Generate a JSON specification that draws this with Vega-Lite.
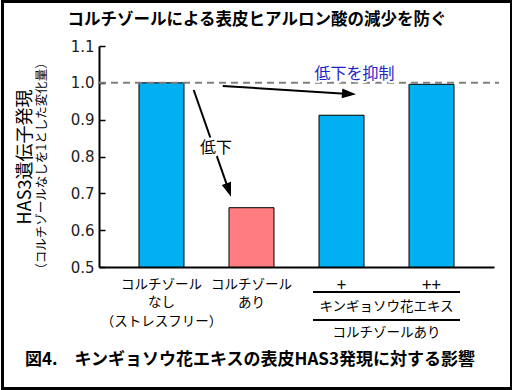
{
  "$schema": "https://vega.github.io/schema/vega-lite/v6.json",
  "width": 395,
  "height": 221,
  "padding": 0,
  "autosize": {"type": "pad"},
  "background": "white",
  "config": {
    "view": {"stroke": null},
    "axis": {"grid": false},
    "text": {"font": "Noto Sans CJK JP"}
  },
  "datasets": {
    "bars": [
      {"condition": "コルチゾールなし（ストレスフリー）", "treatment": "コルチゾールなし", "expression": 1.0},
      {"condition": "コルチゾールあり", "treatment": "コルチゾールあり", "expression": 0.661},
      {"condition": "+", "treatment": "キンギョソウ花エキス", "expression": 0.912},
      {"condition": "++", "treatment": "キンギョソウ花エキス", "expression": 0.996}
    ],
    "frame": [{"x0": -1.7667, "x1": 3.8889, "y0": 1.2208, "y1": 0.1701}],
    "baseline": [{"x0": -0.6944, "x1": 3.75, "y0": 1.0}],
    "arrows": [
      {"x0": 0.3578, "y0": 0.9805, "x1": 0.7467, "y1": 0.7088},
      {"x0": 0.68, "y0": 0.9914, "x1": 2.0833, "y1": 0.97}
    ],
    "head_drop": [{"x0": 0.7467, "y0": 0.7088}],
    "head_keep": [{"x0": 2.0833, "y0": 0.97}],
    "note_drop": [{"x0": 0.6056, "y0": 0.8231, "label": "低下"}],
    "note_keep": [{"x0": 2.1444, "y0": 1.024, "label": "低下を抑制"}],
    "group_lines": [
      {"x0": 1.6833, "x1": 3.3167, "y0": 0.4321},
      {"x0": 1.6833, "x1": 3.3167, "y0": 0.3561}
    ],
    "group_texts": [
      {"x0": 2.5, "y0": 0.3914, "label": "キンギョソウ花エキス"},
      {"x0": 2.5, "y0": 0.3208, "label": "コルチゾールあり"}
    ],
    "y_subtitle": [{"x0": -1.3278, "y0": 0.7742, "label": "（コルチゾールなしを1とした変化量）"}],
    "title": [{"x0": 1.0611, "y0": 1.1706, "label": "コルチゾールによる表皮ヒアルロン酸の減少を防ぐ"}],
    "caption": [{"x0": 0.9833, "y0": 0.2475, "label": "図4.　キンギョソウ花エキスの表皮HAS3発現に対する影響"}]
  },
  "resolve": {
    "scale": {"x": "independent", "y": "independent"},
    "axis": {"x": "independent", "y": "independent"}
  },
  "layer": [
    {
      "data": {"name": "bars"},
      "mark": {"type": "bar", "stroke": "black", "strokeWidth": 1},
      "encoding": {
        "x": {
          "field": "condition",
          "type": "nominal",
          "sort": null,
          "scale": {"paddingInner": 0.5, "paddingOuter": 0.4444},
          "axis": {
            "title": null,
            "labelExpr": "datum.value == 'コルチゾールなし（ストレスフリー）' ? ['コルチゾール', 'なし', '（ストレスフリー）'] : datum.value == 'コルチゾールあり' ? ['コルチゾール', 'あり'] : datum.value",
            "ticks": false,
            "domainColor": "black",
            "domainWidth": 2,
            "labelAngle": 0,
            "labelFont": "Noto Sans CJK JP",
            "labelFontSize": {"condition": {"test": "datum.value == '+' || datum.value == '++'", "value": 17}, "value": 13.5},
            "labelColor": "black",
            "labelPadding": 10,
            "labelLineHeight": 18.5
          }
        },
        "y": {
          "field": "expression",
          "type": "quantitative",
          "scale": {"domain": [0.5, 1.1], "nice": false, "zero": false},
          "axis": {
            "orient": "left",
            "values": [0.5, 0.6, 0.7, 0.8, 0.9, 1.0, 1.1],
            "format": ".1f",
            "tickSize": -6,
            "tickColor": "black",
            "tickWidth": 1.5,
            "domainColor": "black",
            "domainWidth": 2,
            "labelFont": "DejaVu Sans",
            "labelFontSize": 15,
            "labelColor": "#222222",
            "labelPadding": 11,
            "title": "HAS3遺伝子発現",
            "titleFont": "Noto Sans CJK JP",
            "titleFontSize": 18,
            "titleFontWeight": "normal",
            "titleColor": "black",
            "titlePadding": 36
          }
        },
        "y2": {"datum": 0.5},
        "color": {
          "field": "treatment",
          "type": "nominal",
          "scale": {"domain": ["コルチゾールなし", "コルチゾールあり", "キンギョソウ花エキス"], "range": ["#00B0F0", "#FF7C80", "#00B0F0"]},
          "legend": null
        }
      }
    },
    {
      "layer": [
        {
          "data": {"name": "frame"},
          "mark": {"type": "rect", "fillOpacity": 0, "stroke": "black", "strokeWidth": 3},
          "encoding": {
            "x": {"field": "x0", "type": "quantitative", "scale": {"domain": [-0.6944, 3.6944], "nice": false, "zero": false}, "axis": null},
            "x2": {"field": "x1"},
            "y": {"field": "y0", "type": "quantitative", "scale": {"domain": [0.5, 1.1], "nice": false, "zero": false}, "axis": null},
            "y2": {"field": "y1"}
          }
        },
        {
          "data": {"name": "baseline"},
          "mark": {"type": "rule", "color": "#808080", "strokeWidth": 2, "strokeDash": [7, 5]},
          "encoding": {
            "x": {"field": "x0", "type": "quantitative", "scale": {"domain": [-0.6944, 3.6944], "nice": false, "zero": false}, "axis": null},
            "x2": {"field": "x1"},
            "y": {"field": "y0", "type": "quantitative", "scale": {"domain": [0.5, 1.1], "nice": false, "zero": false}, "axis": null}
          }
        },
        {
          "data": {"name": "arrows"},
          "mark": {"type": "rule", "color": "black", "strokeWidth": 2},
          "encoding": {
            "x": {"field": "x0", "type": "quantitative", "scale": {"domain": [-0.6944, 3.6944], "nice": false, "zero": false}, "axis": null},
            "x2": {"field": "x1"},
            "y": {"field": "y0", "type": "quantitative", "scale": {"domain": [0.5, 1.1], "nice": false, "zero": false}, "axis": null},
            "y2": {"field": "y1"}
          }
        },
        {
          "data": {"name": "head_drop"},
          "mark": {"type": "point", "shape": "M0,-1L-0.7,1L0.7,1Z", "size": 196, "filled": true, "color": "black", "opacity": 1, "strokeWidth": 0, "angle": 160.7},
          "encoding": {
            "x": {"field": "x0", "type": "quantitative", "scale": {"domain": [-0.6944, 3.6944], "nice": false, "zero": false}, "axis": null},
            "y": {"field": "y0", "type": "quantitative", "scale": {"domain": [0.5, 1.1], "nice": false, "zero": false}, "axis": null}
          }
        },
        {
          "data": {"name": "head_keep"},
          "mark": {"type": "point", "shape": "M0,-1L-0.7,1L0.7,1Z", "size": 196, "filled": true, "color": "black", "opacity": 1, "strokeWidth": 0, "angle": 93.6},
          "encoding": {
            "x": {"field": "x0", "type": "quantitative", "scale": {"domain": [-0.6944, 3.6944], "nice": false, "zero": false}, "axis": null},
            "y": {"field": "y0", "type": "quantitative", "scale": {"domain": [0.5, 1.1], "nice": false, "zero": false}, "axis": null}
          }
        },
        {
          "data": {"name": "note_drop"},
          "mark": {"type": "text", "font": "Noto Sans CJK JP", "fontSize": 16, "fill": "white", "stroke": "white", "strokeWidth": 6, "align": "center", "baseline": "middle"},
          "encoding": {
            "x": {"field": "x0", "type": "quantitative", "scale": {"domain": [-0.6944, 3.6944], "nice": false, "zero": false}, "axis": null},
            "y": {"field": "y0", "type": "quantitative", "scale": {"domain": [0.5, 1.1], "nice": false, "zero": false}, "axis": null},
            "text": {"field": "label"}
          }
        },
        {
          "data": {"name": "note_drop"},
          "mark": {"type": "text", "font": "Noto Sans CJK JP", "fontSize": 16, "color": "black", "align": "center", "baseline": "middle"},
          "encoding": {
            "x": {"field": "x0", "type": "quantitative", "scale": {"domain": [-0.6944, 3.6944], "nice": false, "zero": false}, "axis": null},
            "y": {"field": "y0", "type": "quantitative", "scale": {"domain": [0.5, 1.1], "nice": false, "zero": false}, "axis": null},
            "text": {"field": "label"}
          }
        },
        {
          "data": {"name": "note_keep"},
          "mark": {"type": "text", "font": "Noto Sans CJK JP", "fontSize": 16, "fill": "white", "stroke": "white", "strokeWidth": 4, "align": "center", "baseline": "middle"},
          "encoding": {
            "x": {"field": "x0", "type": "quantitative", "scale": {"domain": [-0.6944, 3.6944], "nice": false, "zero": false}, "axis": null},
            "y": {"field": "y0", "type": "quantitative", "scale": {"domain": [0.5, 1.1], "nice": false, "zero": false}, "axis": null},
            "text": {"field": "label"}
          }
        },
        {
          "data": {"name": "note_keep"},
          "mark": {"type": "text", "font": "Noto Sans CJK JP", "fontSize": 16, "color": "#2323C8", "align": "center", "baseline": "middle"},
          "encoding": {
            "x": {"field": "x0", "type": "quantitative", "scale": {"domain": [-0.6944, 3.6944], "nice": false, "zero": false}, "axis": null},
            "y": {"field": "y0", "type": "quantitative", "scale": {"domain": [0.5, 1.1], "nice": false, "zero": false}, "axis": null},
            "text": {"field": "label"}
          }
        },
        {
          "data": {"name": "group_lines"},
          "mark": {"type": "rule", "color": "black", "strokeWidth": 2},
          "encoding": {
            "x": {"field": "x0", "type": "quantitative", "scale": {"domain": [-0.6944, 3.6944], "nice": false, "zero": false}, "axis": null},
            "x2": {"field": "x1"},
            "y": {"field": "y0", "type": "quantitative", "scale": {"domain": [0.5, 1.1], "nice": false, "zero": false}, "axis": null}
          }
        },
        {
          "data": {"name": "group_texts"},
          "mark": {"type": "text", "font": "Noto Sans CJK JP", "fontSize": 13.5, "color": "black", "align": "center", "baseline": "middle"},
          "encoding": {
            "x": {"field": "x0", "type": "quantitative", "scale": {"domain": [-0.6944, 3.6944], "nice": false, "zero": false}, "axis": null},
            "y": {"field": "y0", "type": "quantitative", "scale": {"domain": [0.5, 1.1], "nice": false, "zero": false}, "axis": null},
            "text": {"field": "label"}
          }
        },
        {
          "data": {"name": "y_subtitle"},
          "mark": {"type": "text", "font": "Noto Sans CJK JP", "fontSize": 12.5, "color": "black", "align": "center", "baseline": "middle", "angle": 270},
          "encoding": {
            "x": {"field": "x0", "type": "quantitative", "scale": {"domain": [-0.6944, 3.6944], "nice": false, "zero": false}, "axis": null},
            "y": {"field": "y0", "type": "quantitative", "scale": {"domain": [0.5, 1.1], "nice": false, "zero": false}, "axis": null},
            "text": {"field": "label"}
          }
        },
        {
          "data": {"name": "title"},
          "mark": {"type": "text", "font": "Noto Sans CJK JP", "fontSize": 16.5, "fontWeight": "bold", "color": "black", "align": "center", "baseline": "middle"},
          "encoding": {
            "x": {"field": "x0", "type": "quantitative", "scale": {"domain": [-0.6944, 3.6944], "nice": false, "zero": false}, "axis": null},
            "y": {"field": "y0", "type": "quantitative", "scale": {"domain": [0.5, 1.1], "nice": false, "zero": false}, "axis": null},
            "text": {"field": "label"}
          }
        },
        {
          "data": {"name": "caption"},
          "mark": {"type": "text", "font": "Noto Sans CJK JP", "fontSize": 17, "fontWeight": "bold", "color": "black", "align": "center", "baseline": "middle"},
          "encoding": {
            "x": {"field": "x0", "type": "quantitative", "scale": {"domain": [-0.6944, 3.6944], "nice": false, "zero": false}, "axis": null},
            "y": {"field": "y0", "type": "quantitative", "scale": {"domain": [0.5, 1.1], "nice": false, "zero": false}, "axis": null},
            "text": {"field": "label"}
          }
        }
      ]
    }
  ]
}
